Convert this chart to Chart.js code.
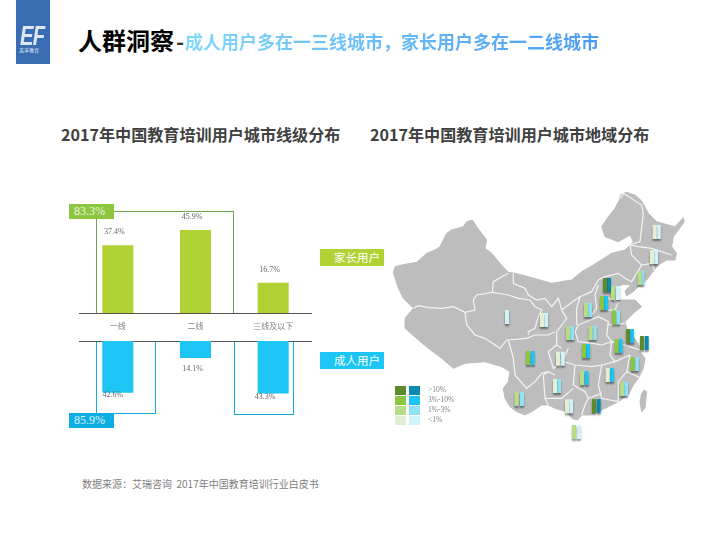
<!DOCTYPE html>
<html lang="zh">
<head>
<meta charset="utf-8">
<title>人群洞察</title>
<script src="https://cdn.jsdelivr.net/npm/chart.js@4"></script>
<style>
    body { margin: 0; background: #fff; width: 720px; height: 540px; position: relative; overflow: hidden;
        font-family: 'Noto Sans CJK SC', sans-serif; }
    .abs { position: absolute; white-space: nowrap; }
    canvas { position: absolute; }
    #logo { left: 16px; top: 0; width: 34px; height: 64px; background: #3a6cb4; }
    #logoEF { left: 4px; top: 23px; font: italic bold 27px/27px 'Liberation Sans', sans-serif; color: #dfe7f4; letter-spacing: -1px;
        transform: scaleX(0.75); transform-origin: left top; }
    #logoCn { left: 3px; top: 47px; font-size: 5px; line-height: 6px; color: #dfe7f4; }
    #titleMain { left: 78px; top: 22px; font-size: 24px; line-height: 36px; font-weight: 700; color: #000; }
    #titleDash { left: 176px; top: 22px; font-size: 22px; line-height: 36px; font-weight: 700; color: #333; }
    #titleSub { left: 185px; top: 27px; font-size: 18px; line-height: 28px; font-weight: 700;
        background: linear-gradient(90deg, #82d8f8, #4c9cf4); -webkit-background-clip: text; background-clip: text; color: transparent; }
    #titleSub span { font-family: 'Noto Sans CJK TC', sans-serif; }
    .sub { top: 122px; font-size: 16.1px; line-height: 24px; font-weight: 700; color: #404040; }
    #source { left: 82px; top: 477px; font-size: 10px; line-height: 14px; color: #808080; }
    .box { box-sizing: border-box; }
    .tag { left: 69px; width: 45px; height: 15px; color: rgba(255,255,255,0.88); font-family: 'Liberation Serif', serif; font-size: 12px; line-height: 15px; padding-left: 5px; box-sizing: border-box; }
    .group { left: 320px; width: 64px; height: 17px; color: #fff; font-size: 11.5px; line-height: 17px; text-align: right; padding-right: 4px; box-sizing: border-box; }
    .swatch { width: 10.7px; height: 9px; }
    .legendText { left: 428px; font: 7.5px/10px 'Liberation Serif', serif; color: #808080; }
</style>
</head>
<body>
<div class="abs" id="logo">
    <div class="abs" id="logoEF">EF</div>
    <div class="abs" id="logoCn">英孚教育</div>
</div>
<div class="abs" id="titleMain">人群洞察</div>
<div class="abs" id="titleDash">-</div>
<div class="abs" id="titleSub">成人用户多在一三线城市<span>，</span>家长用户多在一二线城市</div>
<div class="abs sub" style="left:61px">2017年中国教育培训用户城市线级分布</div>
<div class="abs sub" style="left:370px">2017年中国教育培训用户城市地域分布</div>

<div class="abs box" style="left:96px;top:211px;width:138px;height:103px;border:1px solid #6aa84f"></div>
<div class="abs box" style="left:96px;top:341px;width:60px;height:73px;border:1px solid #12aee2"></div>
<div class="abs box" style="left:234px;top:341px;width:60px;height:74px;border:1px solid #12aee2"></div>

<canvas id="parentChart" width="233" height="141" style="left:79px;top:200px"></canvas>
<canvas id="adultChart" width="233" height="81" style="left:79px;top:340px"></canvas>
<canvas id="mapChart" width="300" height="260" style="left:385px;top:185px"></canvas>

<div class="abs tag" style="top:204px;background:#8cc63f">83.3%</div>
<div class="abs tag" style="top:413px;background:#0caee4">85.9%</div>
<div class="abs group" style="top:249px;background:#b0d235">家长用户</div>
<div class="abs group" style="top:352px;background:#1dc5f5">成人用户</div>
<div class="abs" id="source">数据来源：艾瑞咨询&nbsp;&nbsp;2017年中国教育培训行业白皮书</div>

<script>
// --- DATOS ---
const categories = ['一线', '二线', '三线及以下'];
const parentShare = [37.4, 45.9, 16.7];
const adultShare = [42.6, 14.1, 43.3];

const legendLabels = ['>10%', '3%-10%', '1%-3%', '<1%'];
const parentColors = ['#e3efd5', '#b8dc86', '#8cc63f', '#5f8a2b'];
const adultColors = ['#d0f4fb', '#8fe3f7', '#1dc5f5', '#0a8bab'];

// provincias: x de cada barra, y, nivel de color (0 = <1% ... 3 = >10%)
const regionParentX = [809, 801, 764, 660, 684, 651, 603, 687, 729, 771, 617, 549, 471, null, 429, 519, 597, 695, 743, 591, 668, 711, 510, 395, 546, 627, 567];
const regionAdultX = [821, 813, 772, 672, 698, 663, 615, 699, 741, 785, 629, 561, 483, 366, 443, 533, 609, 707, 755, 605, 681, 723, 522, 411, 558, 641, 581];
const regionY = [141, 216, 279, 300, 324, 354, 375, 397, 453, 474, 444, 444, 405, 396, 519, 521, 498, 483, 537, 579, 570, 612, 603, 642, 664, 663, 741];
const regionParentLevel = [0, 0, 1, 3, 1, 2, 1, 2, 3, 3, 1, 1, 0, null, 2, 0, 2, 2, 2, 1, 0, 1, 0, 1, 0, 3, 1];
const regionAdultLevel = [0, 0, 1, 3, 0, 2, 1, 1, 2, 3, 1, 1, 0, 0, 2, 0, 2, 2, 1, 2, 2, 1, 1, 1, 0, 3, 0];

// contorno del mapa
const chinaOutline = [[705,30],[725,22],[750,30],[770,48],[790,85],[815,110],[850,120],[870,125],[895,98],[898,110],[880,135],[865,155],[860,185],[875,205],[870,225],[845,225],[820,240],[800,265],[785,285],[765,300],[745,320],[725,332],[720,318],[738,300],[715,298],[700,305],[690,325],[705,345],[750,345],[770,365],[745,385],[720,410],[725,430],[745,455],[762,480],[765,500],[780,520],[775,550],[760,580],[745,600],[730,630],[700,650],[670,665],[640,680],[615,690],[590,690],[578,705],[560,700],[545,680],[510,670],[490,660],[470,660],[440,680],[420,690],[395,680],[375,665],[360,640],[355,610],[370,590],[375,560],[350,545],[300,530],[240,535],[205,550],[170,520],[130,490],[100,465],[60,430],[60,400],[85,370],[55,340],[40,310],[25,262],[30,245],[60,238],[95,232],[125,205],[150,195],[165,185],[185,145],[200,135],[235,125],[245,110],[262,105],[275,125],[305,165],[300,190],[320,205],[345,235],[370,262],[390,265],[430,275],[500,295],[560,285],[590,260],[625,240],[680,205],[720,195],[745,170],[735,150],[700,170],[660,155],[650,125],[670,95],[690,70],[700,50]];
const taiwanOutline = [[775,615],[785,620],[780,670],[770,680],[765,650],[770,625]];
const provinceBorders = [
    [[85,370],[100,362],[130,368],[170,370],[205,365],[240,382],[270,375],[265,345],[275,330],[322,322]],
    [[322,322],[325,290],[370,265]],
    [[385,265],[385,295],[420,310],[430,330],[455,345],[480,340],[500,365],[520,340],[525,355],[530,375]],
    [[322,322],[370,330],[400,340],[435,345],[450,365],[470,375],[460,395],[450,430],[430,440],[430,450]],
    [[240,382],[245,420],[270,450],[300,460],[345,490],[365,465],[425,460]],
    [[370,465],[385,520],[390,570],[425,610],[450,590],[470,565],[490,560],[510,570]],
    [[425,460],[450,450],[490,450],[510,440]],
    [[530,375],[545,400],[530,420],[515,440],[515,480],[530,490]],
    [[530,375],[570,345],[585,335],[620,320],[640,285],[660,275],[700,265],[720,280],[740,290],[770,240],[740,210],[735,180],[765,170],[775,85],[770,60],[715,25],[705,40]],
    [[735,180],[760,185],[800,190],[860,210]],
    [[770,240],[800,235],[810,260]],
    [[640,300],[630,330],[635,370],[620,390]],
    [[580,420],[640,395],[670,410],[665,450],[680,470],[650,480],[625,475],[580,470],[570,440],[580,420]],
    [[585,335],[575,370],[575,420]],
    [[660,375],[690,375],[700,350],[670,340]],
    [[670,420],[720,415]],
    [[680,470],[720,480],[765,495]],
    [[680,470],[675,510],[690,530],[735,510]],
    [[735,510],[725,560],[770,580]],
    [[690,530],[650,540],[640,600],[650,640],[700,650],[700,590],[725,560]],
    [[520,525],[570,540],[620,545],[650,540]],
    [[515,480],[490,500],[505,550],[530,535],[550,490]],
    [[570,540],[565,600],[600,620],[610,640],[650,625]],
    [[610,640],[600,660],[590,690]],
    [[475,570],[480,640],[530,640],[565,610]],
    [[480,640],[490,660]],
    [[490,560],[475,570]]
];

const toPoints = (line) => line.map(([x, y]) => ({ x, y }));

// --- ETIQUETAS DE VALOR ---
const valueLabels = {
    id: 'valueLabels',
    afterDatasetsDraw(chart, args, opts) {
        const ctx = chart.ctx;
        const bars = chart.getDatasetMeta(0).data;
        ctx.save();
        ctx.font = "8px 'Liberation Serif', serif";
        ctx.fillStyle = '#666';
        ctx.textAlign = 'center';
        ctx.textBaseline = 'middle';
        bars.forEach((bar, i) => {
            const val = chart.data.datasets[0].data[i];
            ctx.fillText(val.toFixed(1) + '%', bar.x + opts.dx[i], bar.y + opts.dy[i]);
        });
        ctx.restore();
    }
};

Chart.defaults.animation = false;
Chart.defaults.responsive = false;

// --- 1. BARRAS ARRIBA (PADRES) ---
new Chart(document.getElementById('parentChart'), {
    type: 'bar',
    data: {
        labels: categories,
        datasets: [{ data: parentShare, backgroundColor: '#b0d235', barPercentage: 0.4, categoryPercentage: 1 }]
    },
    options: {
        plugins: {
            legend: { display: false },
            tooltip: { enabled: false },
            valueLabels: { dx: [-3.5, -3.5, -3.5], dy: [-13, -13, -13] }
        },
        scales: {
            x: {
                grid: { display: false },
                border: { color: '#555' },
                afterFit: (axis) => { axis.height = 28; },
                ticks: { color: '#808080', padding: 0, maxRotation: 0, font: { size: 8, family: "'Noto Sans CJK SC', sans-serif" } }
            },
            y: { display: false, min: 0, max: 62.4 }
        }
    },
    plugins: [valueLabels]
});

// --- 2. BARRAS ABAJO (ADULTOS) ---
new Chart(document.getElementById('adultChart'), {
    type: 'bar',
    data: {
        labels: categories,
        datasets: [{ data: adultShare, backgroundColor: '#1dc5f5', barPercentage: 0.4, categoryPercentage: 1 }]
    },
    options: {
        plugins: {
            legend: { display: false },
            tooltip: { enabled: false },
            valueLabels: { dx: [-5, -3, -8], dy: [2, 11, 3] }
        },
        scales: {
            x: {
                position: 'top',
                grid: { display: false },
                border: { color: '#555' },
                afterFit: (axis) => { axis.height = 1; },
                ticks: { display: false }
            },
            y: { display: false, reverse: true, min: 0, max: 66 }
        }
    },
    plugins: [valueLabels]
});

// --- 3. MAPA ---
const makeSprite = (color) => {
    const c = document.createElement('canvas');
    c.width = 12;
    c.height = 22;
    const g = c.getContext('2d');
    g.shadowColor = 'rgba(0,0,0,0.45)';
    g.shadowBlur = 2;
    g.shadowOffsetY = 2;
    g.fillStyle = color;
    g.fillRect(4, 4, 4, 14);
    return c;
};
const parentSprites = parentColors.map(makeSprite);
const adultSprites = adultColors.map(makeSprite);

const parentPoints = [], parentStyles = [], adultPoints = [], adultStyles = [];
regionY.forEach((y, i) => {
    if (regionParentLevel[i] !== null) {
        parentPoints.push({ x: regionParentX[i], y });
        parentStyles.push(parentSprites[regionParentLevel[i]]);
    }
    adultPoints.push({ x: regionAdultX[i], y });
    adultStyles.push(adultSprites[regionAdultLevel[i]]);
});

// el primer dataset se pinta encima: marcas primero, contorno al final
new Chart(document.getElementById('mapChart'), {
    type: 'scatter',
    data: {
        datasets: [
            { data: parentPoints, pointStyle: parentStyles },
            { data: adultPoints, pointStyle: adultStyles },
            ...provinceBorders.map((line) => ({ data: toPoints(line), showLine: true, borderColor: '#f4f4f4', borderWidth: 1.2, pointRadius: 0 })),
            { data: toPoints(taiwanOutline), showLine: true, fill: 'shape', backgroundColor: '#bdbdbd', borderColor: '#bdbdbd', borderWidth: 1, pointRadius: 0 },
            { data: toPoints(chinaOutline), showLine: true, fill: 'shape', backgroundColor: '#bdbdbd', borderColor: '#bdbdbd', borderWidth: 1, pointRadius: 0 }
        ]
    },
    options: {
        layout: { autoPadding: false },
        plugins: { legend: { display: false }, tooltip: { enabled: false } },
        scales: {
            x: { display: false, min: 0, max: 900 },
            y: { display: false, reverse: true, min: 0, max: 780 }
        }
    }
});

// --- LEYENDA DEL MAPA ---
legendLabels.forEach((label, i) => {
    const level = legendLabels.length - 1 - i;
    const top = 386 + i * 10;
    [[395, parentColors], [409, adultColors]].forEach(([left, colors]) => {
        const s = document.createElement('div');
        s.className = 'abs swatch';
        s.style.left = left + 'px';
        s.style.top = top + 'px';
        s.style.background = colors[level];
        document.body.appendChild(s);
    });
    const t = document.createElement('div');
    t.className = 'abs legendText';
    t.style.top = (top - 1) + 'px';
    t.textContent = label;
    document.body.appendChild(t);
});
</script>
</body>
</html>
